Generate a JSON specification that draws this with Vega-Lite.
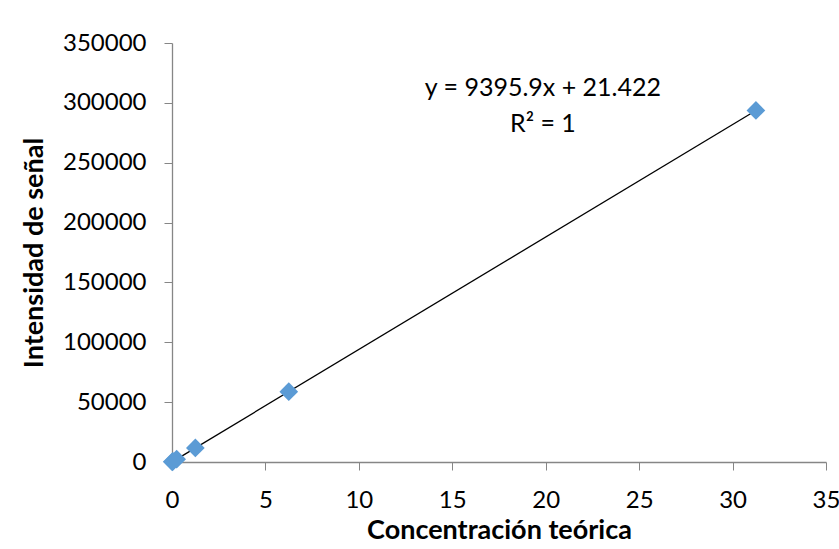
{
  "$schema": "https://vega.github.io/schema/vega-lite/v6.json",
  "width": 654,
  "height": 419,
  "autosize": "none",
  "padding": {"left": 172, "top": 43, "right": 13, "bottom": 87},
  "background": "white",
  "config": {
    "view": {"stroke": null},
    "font": "Lato",
    "axis": {
      "domainColor": "#868686",
      "tickColor": "#868686",
      "grid": false,
      "labelColor": "#000000",
      "titleColor": "#000000",
      "labelFont": "Lato",
      "titleFont": "Lato",
      "labelFontSize": 24,
      "titleFontSize": 27,
      "titleFontWeight": "bold",
      "tickSize": 8,
      "domainWidth": 1.3,
      "labelFlush": false
    }
  },
  "data": {
    "values": [
      {"conc": 0.01, "intensidad": 115},
      {"conc": 0.05, "intensidad": 491},
      {"conc": 0.25, "intensidad": 2370},
      {"conc": 1.25, "intensidad": 11766},
      {"conc": 6.25, "intensidad": 58746},
      {"conc": 31.25, "intensidad": 293643}
    ]
  },
  "layer": [
    {
      "transform": [{"regression": "intensidad", "on": "conc"}],
      "mark": {"type": "line", "color": "black", "strokeWidth": 1.3},
      "encoding": {
        "x": {"field": "conc", "type": "quantitative"},
        "y": {"field": "intensidad", "type": "quantitative"}
      }
    },
    {
      "mark": {"type": "point", "shape": "diamond", "filled": true, "color": "#5B9BD5", "opacity": 1, "size": 350},
      "encoding": {
        "x": {
          "field": "conc",
          "type": "quantitative",
          "scale": {"domain": [0, 35], "nice": false},
          "axis": {"values": [0, 5, 10, 15, 20, 25, 30, 35], "title": "Concentración teórica", "labelPadding": 18, "titlePadding": 5}
        },
        "y": {
          "field": "intensidad",
          "type": "quantitative",
          "scale": {"domain": [0, 350000], "nice": false},
          "axis": {"values": [0, 50000, 100000, 150000, 200000, 250000, 300000, 350000], "format": "d", "title": "Intensidad de señal", "labelPadding": 18, "titlePadding": 14}
        }
      }
    },
    {
      "data": {"values": [{"conc": 19.85, "intensidad": 312400, "label": "y = 9395.9x + 21.422"}, {"conc": 19.85, "intensidad": 282300, "label": "R² = 1"}]},
      "mark": {"type": "text", "font": "Lato", "fontSize": 25, "color": "black", "align": "center", "baseline": "middle"},
      "encoding": {
        "x": {"field": "conc", "type": "quantitative"},
        "y": {"field": "intensidad", "type": "quantitative"},
        "text": {"field": "label"}
      }
    }
  ]
}
